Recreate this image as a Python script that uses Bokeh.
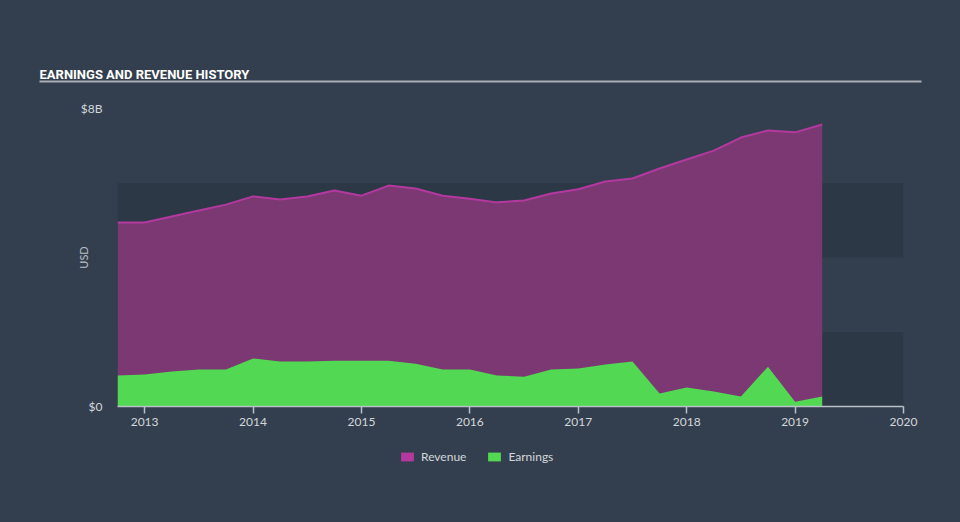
from bokeh.plotting import figure
from bokeh.layouts import column
from bokeh.models import Range1d, FixedTicker, BoxAnnotation, Legend, LegendItem
from bokeh.core.properties import value
from bokeh.embed import file_html
from bokeh.resources import INLINE

# ---- data (billions USD) ----
dates = [2012.75, 2013.0, 2013.25, 2013.5, 2013.75, 2014.0, 2014.25, 2014.5, 2014.75,
         2015.0, 2015.25, 2015.5, 2015.75, 2016.0, 2016.25, 2016.5, 2016.75,
         2017.0, 2017.25, 2017.5, 2017.75, 2018.0, 2018.25, 2018.5, 2018.75,
         2019.0, 2019.25]
revenue = [4.94, 4.94, 5.10, 5.26, 5.42, 5.64, 5.56, 5.64, 5.80,
           5.66, 5.93, 5.85, 5.66, 5.58, 5.48, 5.53, 5.72,
           5.83, 6.04, 6.12, 6.39, 6.63, 6.87, 7.22, 7.41,
           7.36, 7.57]
earnings = [0.83, 0.86, 0.94, 0.99, 0.99, 1.29, 1.21, 1.21, 1.23,
            1.23, 1.23, 1.15, 0.99, 0.99, 0.83, 0.80, 0.99,
            1.02, 1.13, 1.21, 0.35, 0.51, 0.40, 0.27, 1.07,
            0.13, 0.27]
year_ticks = [2013, 2014, 2015, 2016, 2017, 2018, 2019, 2020]
y_ticks = [0, 8]
y_tick_labels = {0: "$0", 8: "$8B"}
band_ranges = [(0, 2), (4, 6)]
title_text = "EARNINGS AND REVENUE HISTORY"
series_names = ["Revenue", "Earnings"]

BG = "#333f4e"
BAND = "#2d3846"
REV_FILL = "#7b3873"
REV_LINE = "#b3399f"
EARN = "#52d852"
TXT = "#d3d7dc"
FONT = "Lato"


def bare(fig):
    fig.background_fill_color = BG
    fig.border_fill_color = BG
    fig.outline_line_color = None
    fig.grid.visible = False
    fig.frame_align = False
    fig.styles = {"background-color": BG}
    return fig


# ---- header: title + rule (pixel coordinates) ----
header = bare(figure(width=960, height=90, output_backend="svg", toolbar_location=None,
                     x_range=Range1d(0, 960), y_range=Range1d(90, 0),
                     x_axis_type=None, y_axis_type=None, min_border=0))
header.text(x=[39], y=[74], text=[title_text], text_color="#ffffff",
            text_font=value("Roboto"), text_font_style="bold",
            text_font_size="13px", text_baseline="alphabetic", text_align="left")
header.segment(x0=[39], y0=[81], x1=[921], y1=[81], line_color="#a9aeb6", line_width=2)

# ---- main chart ----
p = bare(figure(width=960, height=356, output_backend="svg", toolbar_location=None,
                x_range=Range1d(2012.75, 2020.0), y_range=Range1d(0, 8),
                min_border_left=117, min_border_right=57, min_border_top=18,
                min_border_bottom=40))

for lo, hi in band_ranges:
    p.add_layout(BoxAnnotation(bottom=lo, top=hi, fill_color=BAND, fill_alpha=1.0,
                               line_color=None, level="underlay"))

p.varea(x=dates, y1=0, y2=revenue, fill_color=REV_FILL)
p.line(dates, revenue, line_color=REV_LINE, line_width=2)
p.varea(x=dates, y1=0, y2=earnings, fill_color=EARN)

xa = p.xaxis[0]
xa.ticker = FixedTicker(ticks=year_ticks)
xa.major_label_overrides = {t: str(t) for t in year_ticks}
xa.axis_line_color = "#b9c0c8"
xa.axis_line_width = 1.5
xa.major_tick_line_color = "#b9c0c8"
xa.major_tick_line_width = 1.5
xa.major_tick_in = 0
xa.major_tick_out = 7
xa.minor_tick_line_color = None
xa.major_label_standoff = 4
xa.major_label_text_color = TXT
xa.major_label_text_font = FONT
xa.major_label_text_font_size = "12px"

ya = p.yaxis[0]
ya.ticker = FixedTicker(ticks=y_ticks)
ya.major_label_overrides = y_tick_labels
ya.axis_line_color = None
ya.major_tick_line_color = None
ya.minor_tick_line_color = None
ya.major_tick_in = 0
ya.major_tick_out = 0
ya.major_label_standoff = 15
ya.major_label_text_color = TXT
ya.major_label_text_font = FONT
ya.major_label_text_font_size = "12px"
ya.axis_label = "USD"
ya.axis_label_standoff = -12
ya.axis_label_text_color = "#b8bec6"
ya.axis_label_text_font = FONT
ya.axis_label_text_font_style = "normal"
ya.axis_label_text_font_size = "11px"

# ---- footer: legend (series drawn off-range so only their swatches show) ----
footer = bare(figure(width=960, height=76, output_backend="svg", toolbar_location=None,
                     x_range=Range1d(0, 1), y_range=Range1d(0, 1),
                     x_axis_type=None, y_axis_type=None, min_border=0))
rev_sw = footer.varea(x=dates, y1=0, y2=revenue, fill_color=REV_LINE)
earn_sw = footer.varea(x=dates, y1=0, y2=earnings, fill_color=EARN)
legend = Legend(items=[LegendItem(label=series_names[0], renderers=[rev_sw]),
                       LegendItem(label=series_names[1], renderers=[earn_sw])],
                orientation="horizontal", location=(399, 58),
                background_fill_alpha=0, border_line_color=None,
                glyph_width=16, glyph_height=11, label_standoff=6, spacing=20,
                padding=0, margin=0, label_height=15,
                label_text_color=TXT, label_text_font=FONT, label_text_font_size="12px")
footer.add_layout(legend, "center")

layout = column(header, p, footer, spacing=0, styles={"background-color": BG})
open("out.html", "w").write(file_html(layout, INLINE))
